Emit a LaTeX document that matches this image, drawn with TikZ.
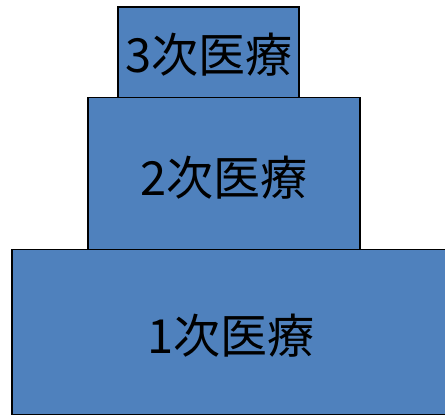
\documentclass[tikz,border=0pt]{standalone}
\usepackage{fontspec}
\newfontfamily\jpfont{Noto Sans CJK JP}
\definecolor{tierblue}{HTML}{4F81BD}
\tikzset{tier/.style={draw=black, line width=1.5pt, fill=tierblue},
  tiertext/.style={font=\jpfont\fontsize{47}{50}\selectfont, text=black, inner sep=0pt}}
\begin{document}
\begin{tikzpicture}[x=1pt,y=-1pt]
\clip (0,0) rectangle (445,416);
\useasboundingbox (0,0) rectangle (445,416);
\path[tier] (12,249.5) rectangle (455,414.5);
\path[tier] (88,97.5) rectangle (360,249.5);
\path[tier] (118,7) rectangle (299,97.5);
\node[tiertext] (t3) at (209,55) {3次医療};
\node[tiertext] (t2) at (224,178) {2次医療};
\node[tiertext] (t1) at (231,336) {1次医療};
\end{tikzpicture}
\end{document}
